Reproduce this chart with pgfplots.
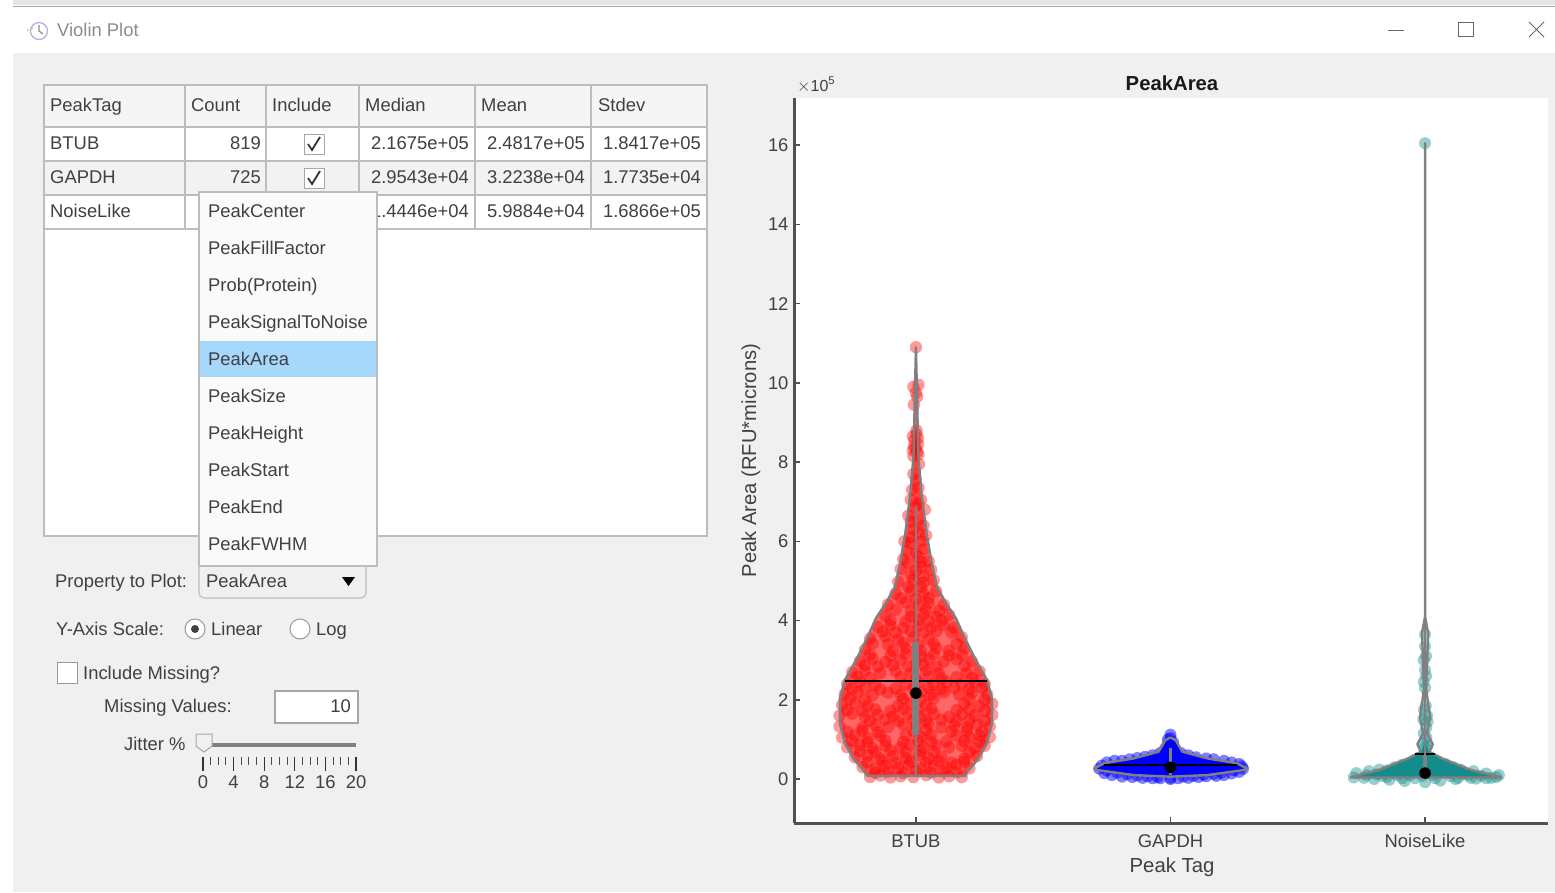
\documentclass[border=0pt]{standalone}
\usepackage{pgfplots}
\pgfplotsset{compat=1.18}
\usepackage{fontspec}
\setmainfont{Liberation Sans}
\definecolor{figbg}{HTML}{F0F0F0}
\definecolor{txt}{HTML}{404040}
\definecolor{bord}{HTML}{BDBDBD}
\definecolor{axc}{HTML}{505050}
\definecolor{vgray}{HTML}{808080}
\definecolor{teal2}{HTML}{148C8C}
\definecolor{hilite}{HTML}{A6D8FB}
\newcommand\lt[3]{\node[anchor=base west,inner sep=0pt,text=txt,yshift=-6.5pt] at (#1,#2) {#3};}
\newcommand\rt[3]{\node[anchor=base east,inner sep=0pt,text=txt,yshift=-6.5pt] at (#1,#2) {#3};}
\newcommand\ct[3]{\node[anchor=base,inner sep=0pt,text=txt,yshift=-6.5pt] at (#1,#2) {#3};}
\begin{document}
\begin{tikzpicture}
\path[use as bounding box] (0pt,0pt) rectangle (1555pt,-892pt);
\begin{scope}[x=1pt,y=-1pt,every node/.style={font=\fontsize{18.4pt}{20pt}\selectfont}]
\fill[white] (0,0) rectangle (1555,892);
\fill[black!10] (13,0) rectangle (1555,5);
\draw[black!35,line width=1pt] (13,6) -- (1555,6);
\fill[figbg] (13,53) rectangle (1555,892);
% title bar
\draw[black!35!blue!30!white,line width=1.3pt] (39,31) circle (8.5);
\draw[black!45,line width=1.2pt] (39,25) -- (39,31) -- (43,34);
\fill[black!30] (28,30) circle (1) (32,28) circle (1);
\node[anchor=base west,inner sep=0pt,text=black!45,yshift=-6.5pt] at (57,30) {Violin Plot};
\draw[black!60,line width=1pt] (1388,30) -- (1404,30);
\draw[black!60,line width=1pt] (1458,22) rectangle (1473,36);
\draw[black!60,line width=1pt] (1529,22) -- (1544,37) (1544,22) -- (1529,37);
% table
\fill[white] (44,85) rectangle (707,536);
\fill[black!4] (44,85) rectangle (707,127);
\fill[black!5] (44,161) rectangle (707,195);
\draw[bord,line width=1.1pt] (44,85) rectangle (707,536);
\draw[bord,line width=1.1pt] (44,127) -- (707,127) (44,161) -- (707,161) (44,195) -- (707,195) (44,229) -- (707,229);
\foreach \x in {185,266,359,475,591} {\draw[bord,line width=1.1pt] (\x,85) -- (\x,229);}
\lt{50}{105}{PeakTag}\lt{191}{105}{Count}\lt{272}{105}{Include}\lt{365}{105}{Median}\lt{481}{105}{Mean}\lt{598}{105}{Stdev}
\lt{50}{143}{BTUB}\rt{261}{143}{819}\rt{469}{143}{2.1675e+05}\rt{585}{143}{2.4817e+05}\rt{701}{143}{1.8417e+05}
\lt{50}{177}{GAPDH}\rt{261}{177}{725}\rt{469}{177}{2.9543e+04}\rt{585}{177}{3.2238e+04}\rt{701}{177}{1.7735e+04}
\lt{50}{211}{NoiseLike}\rt{469}{211}{1.4446e+04}\rt{585}{211}{5.9884e+04}\rt{701}{211}{1.6866e+05}
\foreach \y in {144,178} {
 \draw[black!35,fill=white,line width=1pt] (304,\y-10) rectangle (324,\y+10);
 \draw[black!80,line width=1.8pt] (308,\y) -- (312,\y+6) -- (320,\y-7);
}
% dropdown list
\fill[black!2] (199,192) rectangle (377,566);
\fill[hilite] (200,341) rectangle (376,377);
\draw[bord,line width=1.1pt] (199,192) rectangle (377,566);
\lt{208}{211}{PeakCenter}\lt{208}{248}{PeakFillFactor}\lt{208}{285}{Prob(Protein)}\lt{208}{322}{PeakSignalToNoise}\lt{208}{359}{PeakArea}
\lt{208}{396}{PeakSize}\lt{208}{433}{PeakHeight}\lt{208}{470}{PeakStart}\lt{208}{507}{PeakEnd}\lt{208}{544}{PeakFWHM}
% popup button
\draw[bord,line width=1.1pt,fill=figbg,rounded corners=5pt] (199,560) -- (199,598) -- (366,598) -- (366,560);
\fill[black!2] (199,560) rectangle (377,566);
\draw[bord,line width=1.1pt] (199,566) -- (377,566) (199,560) -- (199,566) (377,560) -- (377,566);
\lt{206}{581}{PeakArea}
\fill[black] (342,577) -- (355,577) -- (348.5,586) -- cycle;
\lt{55}{581}{Property to Plot:}
% radio
\lt{56}{629}{Y-Axis Scale:}
\draw[black!40,fill=white,line width=1pt] (195,629) circle (10);
\fill[black!75] (195,629) circle (4);
\lt{211}{629}{Linear}
\draw[black!40,fill=white,line width=1pt] (300,629) circle (10);
\lt{316}{629}{Log}
\draw[black!40,fill=white,line width=1pt] (57,662) rectangle (77,683);
\lt{83}{673}{Include Missing?}
\lt{104}{706}{Missing Values:}
\draw[black!35,fill=white,line width=1.1pt] (275,691) rectangle (358,723);
\rt{351}{706}{10}
\lt{124}{744}{Jitter \%}
\fill[black!50] (204,743) rectangle (356,747);
\draw[black!35,fill=figbg,line width=1pt] (196,734) -- (212,734) -- (212,746) -- (204,752) -- (196,746) -- cycle;
\foreach \x in {203,233.6,264.2,294.8,325.4,356} {\draw[black!80,line width=1.2pt] (\x,757) -- (\x,771);}
\foreach \x in {210.65,218.3,225.95,241.25,248.9,256.55,271.85,279.5,287.15,302.45,310.1,317.75,333.05,340.7,348.35} {\draw[black!70,line width=1pt] (\x,757) -- (\x,765);}
\ct{203}{782}{0}\ct{233.6}{782}{4}\ct{264.2}{782}{8}\ct{294.8}{782}{12}\ct{325.4}{782}{16}\ct{356}{782}{20}
% power label
\node[anchor=base west,inner sep=0pt,text=txt,font=\fontsize{16pt}{18pt}\selectfont,yshift=-6pt] at (797,85) {$\times$10\textsuperscript{5}};
\end{scope}

\begin{axis}[
  at={(794pt,-823pt)}, anchor=south west,
  width=754pt, height=725pt, scale only axis,
  xmin=-0.479, xmax=2.483, ymin=-1.11, ymax=17.19,
  axis x line*=bottom, axis y line*=left,
  axis background/.style={fill=white},
  axis line style={color=axc,line width=3pt},
  xtick={0,1,2}, xticklabels={BTUB,GAPDH,NoiseLike},
  ytick={0,2,4,6,8,10,12,14,16},
  scaled y ticks=false,
  /pgf/number format/assume math mode=true,
  tick align=inside, major tick length=6pt,
  tick style={color=axc,line width=1.6pt},
  ticklabel style={font=\fontsize{18.4pt}{20pt}\selectfont,text=txt},
  xticklabel style={anchor=base,yshift=-24pt},
  yticklabel style={anchor=east,xshift=-2pt},
  title={\bfseries PeakArea},
  every axis title/.style={at={(rel axis cs:0.5,1)},anchor=base,xshift=1pt,yshift=8pt,font=\fontsize{20.3pt}{22pt}\selectfont,text=black!90},
  xlabel={Peak Tag},
  every axis x label/.style={at={(rel axis cs:0.5,0)},anchor=base,xshift=1pt,yshift=-49pt,font=\fontsize{20.3pt}{22pt}\selectfont,text=txt},
  ylabel={Peak Area (RFU*microns)},
  every axis y label/.style={at={(rel axis cs:0,0.5)},anchor=center,xshift=-43pt,rotate=90,font=\fontsize{20.2pt}{22pt}\selectfont,text=txt},
  clip mode=individual,
]
% ---- BTUB underlay
\addplot[draw=none,fill=red,fill opacity=.6] coordinates {
 (-.193,.08)(-.204,.2)(-.244,.5)(-.279,.9)(-.299,1.41)(-.299,2.03)(-.279,2.5)(-.228,3.09)(-.189,3.6)(-.157,4.06)(-.118,4.44)(-.083,4.85)(-.062,5.45)(-.042,6.2)(-.022,7.2)(-.009,8.2)(-.005,9.5)(0,10.9)
 (.005,9.5)(.009,8.2)(.022,7.2)(.042,6.2)(.062,5.45)(.083,4.85)(.118,4.44)(.157,4.06)(.189,3.6)(.228,3.09)(.279,2.5)(.299,2.03)(.299,1.41)(.279,.9)(.244,.5)(.204,.2)(.193,.08)};
% ---- BTUB points
\addplot[only marks,mark=*,mark size=6.2pt,mark options={draw=red,draw opacity=0,line width=0pt,fill=red,fill opacity=.4}] coordinates {
 (-.18,.05)(-.14,.09)(-.1,.04)(-.06,.07)(-.01,.05)(.04,.1)(.09,.04)(.13,.07)(.18,.05)
 (-.21,.3)(-.16,.26)(-.12,.33)(-.07,.28)(-.03,.36)(.02,.27)(.07,.34)(.12,.29)(.16,.36)(.21,.27)
 (-.24,.55)(-.19,.6)(-.14,.52)(-.09,.58)(-.04,.53)(.01,.6)(.05,.52)(.1,.57)(.19,.52)(.24,.58)
 (-.27,.8)(-.22,.85)(-.17,.78)(-.12,.84)(-.06,.8)(-.02,.86)(.03,.79)(.08,.85)(.13,.8)(.18,.84)(.23,.78)(.27,.84)
 (-.29,1.05)(-.24,1.1)(-.19,1.03)(-.14,1.09)(-.04,1.11)(.02,1.06)(.06,1.12)(.16,1.1)(.21,1.05)(.25,1.1)(.29,1.06)
 (-.3,1.33)(-.21,1.3)(-.16,1.36)(-.11,1.31)(-.05,1.38)(0,1.33)(.05,1.39)(.1,1.3)(.15,1.36)(.2,1.31)(.24,1.37)(.29,1.33)
 (-.3,1.6)(-.25,1.65)(-.2,1.57)(-.15,1.63)(-.09,1.58)(-.03,1.65)(.02,1.58)(.07,1.64)(.13,1.57)(.18,1.63)(.23,1.6)(.3,1.62)
 (-.29,1.87)(-.24,1.92)(-.19,1.85)(-.07,1.85)(-.02,1.92)(.04,1.86)(.19,1.9)(.25,1.85)(.3,1.9)
 (-.28,2.14)(-.23,2.19)(-.17,2.12)(-.11,2.18)(-.06,2.12)(.02,2.19)(.06,2.13)(.11,2.19)(.17,2.13)(.22,2.18)(.28,2.13)
 (-.27,2.4)(-.22,2.46)(-.16,2.38)(-.04,2.39)(.01,2.45)(.07,2.39)(.12,2.45)(.18,2.4)(.23,2.45)(.27,2.4)
 (-.25,2.7)(-.2,2.74)(-.14,2.67)(-.08,2.73)(-.02,2.68)(.04,2.74)(.09,2.67)(.2,2.68)(.25,2.72)
 (-.22,2.98)(-.17,3.03)(-.12,2.95)(-.06,3.01)(0,2.96)(.05,3.03)(.11,2.96)(.16,3.02)(.22,2.97)
 (-.2,3.27)(-.09,3.24)(-.04,3.3)(.02,3.25)(.08,3.31)(.13,3.24)(.19,3.3)
 (-.18,3.55)(-.12,3.6)(-.07,3.52)(-.01,3.58)(.05,3.53)(.18,3.58)
 (-.15,3.84)(-.1,3.88)(-.05,3.81)(.01,3.87)(.06,3.82)(.11,3.88)(.15,3.82)
 (-.12,4.12)(-.02,4.1)(.03,4.16)(.08,4.1)(.13,4.14)
 (-.11,4.4)(-.04,4.46)(.01,4.39)(.05,4.45)(.11,4.4)
 (-.08,4.68)(-.02,4.74)(.03,4.68)(.08,4.74)
 (-.07,4.98)(-.01,5.03)(.03,4.96)(.07,5.02)
 (-.06,5.3)(0,5.26)(.02,5.35)(.06,5.28)
 (-.05,5.55)(.01,5.6)(.05,5.5)(-.035,5.75)(.03,5.8)
 (-.045,6)(-.02,6.1)(.02,6)(.04,6.15)(-.01,6.3)(.03,6.4)
 (-.03,6.65)(.01,6.55)(.035,6.8)(-.005,6.85)(-.02,7.05)(.02,7.05)
 (-.015,7.3)(.01,7.35)(0,7.55)(-.01,7.7)(.012,7.95)(-.01,8.15)(.005,8.25)(-.012,8.3)(.01,8.2)(-.006,8.55)(.008,8.6)(-.012,8.65)(.002,8.8)
 (-.008,9.45)(.005,9.65)(-.01,9.9)(.01,9.95)(0,9.75)(0,10.9)
};
% ---- BTUB points, second run: the dense parts of the cloud
\addplot[only marks,mark=*,mark size=6.2pt,mark options={draw=red,draw opacity=0,line width=0pt,fill=red,fill opacity=.4}] coordinates {
 (-.16,.16)(-.11,.18)(-.05,.15)(0,.2)(.06,.16)(.11,.19)(.16,.17)
 (-.19,.43)(-.13,.45)(-.08,.41)(-.02,.44)(.04,.42)(.09,.45)(.14,.41)(.19,.44)
 (-.22,.7)(-.16,.68)(-.1,.72)(-.04,.67)(.02,.71)(.07,.68)(.21,.69)
 (-.25,.96)(-.19,.93)(-.12,.97)(-.05,.94)(.01,.97)(.06,.94)(.12,.95)(.19,.96)(.25,.94)
 (-.27,1.2)(-.21,1.22)(-.15,1.18)(-.01,1.21)(.04,1.23)(.14,1.2)(.2,1.22)(.26,1.19)
 (-.18,1.47)(-.12,1.5)(-.07,1.46)(-.01,1.5)(.04,1.48)(.1,1.5)(.16,1.46)(.21,1.49)(.27,1.47)
 (-.27,1.74)(-.21,1.72)(-.16,1.76)(-.1,1.72)(-.05,1.77)(.01,1.73)(.06,1.77)(.16,1.74)(.21,1.76)(.27,1.72)
 (-.26,2.02)(-.2,2)(-.05,2.03)(.02,2)(.07,2.04)(.21,2.02)(.27,2)
 (-.25,2.28)(-.2,2.3)(-.14,2.26)(-.08,2.29)(-.01,2.27)(.05,2.3)(.1,2.27)(.15,2.3)(.21,2.27)(.26,2.3)
 (-.23,2.58)(-.18,2.55)(-.06,2.57)(0,2.54)(.05,2.58)(.1,2.54)(.16,2.57)(.22,2.55)
 (-.2,2.87)(-.15,2.84)(-.09,2.87)(-.03,2.84)(.03,2.87)(.08,2.83)(.19,2.86)
 (-.18,3.14)(-.1,3.12)(-.04,3.15)(.02,3.11)(.07,3.15)(.13,3.12)(.18,3.14)
 (-.17,3.42)(-.11,3.4)(-.05,3.43)(.01,3.39)(.07,3.42)(.16,3.41)
 (-.13,3.72)(-.08,3.7)(-.02,3.73)(.03,3.7)(.08,3.73)(.14,3.7)
 (-.1,4)(-.04,3.98)(.01,4.01)(.05,3.98)(.1,4)
 (-.08,4.27)(-.02,4.25)(.04,4.27)(.09,4.25)
 (-.06,4.56)(0,4.54)(.05,4.57)(-.03,4.85)(.02,4.84)
 (-.02,5.15)(.03,5.12)(-.03,5.45)(.02,5.48)(.0,5.7)(-.02,5.95)(.01,6.2)(-.02,6.5)(.01,6.95)
 (.0,8.35)(-.008,8.4)(.008,8.45)(.002,8.7)
};
% ---- GAPDH underlay
\addplot[draw=none,fill=blue] coordinates {
 (1,1.05)(.98,.98)(.953,.69)(.855,.52)(.74,.4)(.701,.27)(.71,.23)(.855,.1)(1,.06)(1.145,.1)(1.29,.23)(1.299,.27)(1.26,.4)(1.145,.52)(1.047,.69)(1.02,.98)};
% ---- GAPDH points
\addplot[only marks,mark=*,mark size=6pt,mark options={draw=blue,draw opacity=0,line width=0pt,fill=blue,fill opacity=.5}] coordinates {
 (.72,.26)(.73,.34)(.74,.15)(.75,.42)(.78,.46)(.77,.1)(.81,.46)(.81,.06)(.84,.5)(.85,.05)(.87,.53)(.89,.03)(.9,.56)(.93,.02)(.93,.6)(.96,.02)(.96,.66)(1,.0)(.98,.78)(1.03,.02)(1.04,.66)(1.07,.03)(1.07,.6)(1.11,.05)(1.1,.55)(1.14,.07)(1.14,.52)(1.18,.08)(1.17,.5)(1.21,.1)(1.21,.46)(1.24,.14)(1.24,.42)(1.27,.18)(1.27,.38)(1.285,.26)(1.28,.32)
 (.99,.9)(1.01,.93)(1,1.03)(1,1.12)(.99,1.0)(1.01,.85)(1.01,.75)
 (.75,.22)(.79,.16)(.83,.12)(.87,.09)(.91,.07)(.95,.05)(1,.03)(1.05,.06)(1.09,.08)(1.13,.11)(1.17,.13)(1.2,.16)(1.25,.22)
};
% ---- NoiseLike underlay
\addplot[draw=none,fill=teal2] coordinates {
 (1.705,.04)(1.82,.23)(1.933,.52)(1.983,.69)(2,.9)(2.017,.69)(2.067,.52)(2.18,.23)(2.3,.04)};
% ---- NoiseLike points
\addplot[only marks,mark=*,mark size=6pt,mark options={draw=teal2,draw opacity=0,line width=0pt,fill=teal2,fill opacity=.42}] coordinates {
 (1.72,.04)(1.73,.15)(1.76,.03)(1.78,.2)(1.8,.0)(1.82,.24)(1.83,.08)(1.85,.22)(1.86,-.02)(1.88,.3)(1.89,.1)(1.91,.36)(1.92,-.05)(1.94,.2)(1.95,.44)(1.96,.02)(1.98,.52)(2,-.08)(2.02,.5)(2.03,.1)(2.05,.45)(2.06,-.04)(2.08,.38)(2.09,.15)(2.11,.3)(2.12,0)(2.14,.24)(2.15,.12)(2.18,.03)(2.19,.2)(2.22,.08)(2.24,.14)(2.26,.03)(2.28,.05)(2.29,.1)
 (1.77,.1)(1.81,.12)(1.85,.05)(1.88,.16)(1.91,.02)(1.94,.1)(1.97,.25)(1.99,.08)(2.01,.28)(2.04,.02)(2.07,.2)(2.1,.07)(2.13,.03)(2.17,.1)(2.2,.01)(2.24,.02)
 (2,.8)(2.01,.85)(1.995,.9)(2.005,1.05)(1.995,1.15)(2.005,1.3)(2.01,1.45)(1.993,1.5)(2.008,1.6)(1.996,1.75)(2.003,1.85)
 (2,2.3)(1.995,2.45)(2.004,2.6)(2,2.75)(1.995,3)(2.004,3.1)(2,3.35)(2,3.65)(2,16.05)
};
% ---- outlines
\addplot[vgray,line width=2.4pt,line join=round] coordinates {
 (-.193,.08)(-.204,.2)(-.244,.5)(-.279,.9)(-.299,1.41)(-.299,2.03)(-.279,2.5)(-.228,3.09)(-.189,3.6)(-.157,4.06)(-.118,4.44)(-.083,4.85)(-.062,5.45)(-.042,6.2)(-.022,7.2)(-.009,8.2)(-.005,9.5)(0,10.9)
 (.005,9.5)(.009,8.2)(.022,7.2)(.042,6.2)(.062,5.45)(.083,4.85)(.118,4.44)(.157,4.06)(.189,3.6)(.228,3.09)(.279,2.5)(.299,2.03)(.299,1.41)(.279,.9)(.244,.5)(.204,.2)(.193,.08)(-.193,.08)};
\addplot[vgray,line width=2.4pt,line join=round] coordinates {
 (1,1.05)(.98,.98)(.953,.69)(.855,.52)(.74,.4)(.701,.27)(.71,.23)(.855,.1)(1,.06)(1.145,.1)(1.29,.23)(1.299,.27)(1.26,.4)(1.145,.52)(1.047,.69)(1.02,.98)(1,1.05)};
\addplot[vgray,line width=2.4pt,line join=round] coordinates {
 (1.705,.04)(1.82,.23)(1.933,.52)(1.983,.69)(1.97,.88)(1.992,1.15)(1.98,1.57)(1.988,1.9)(1.996,2.3)(1.988,3.68)(2,4.1)(2,16.05)
 (2,4.1)(2.012,3.68)(2.004,2.3)(2.012,1.9)(2.02,1.57)(2.008,1.15)(2.03,.88)(2.017,.69)(2.067,.52)(2.18,.23)(2.3,.04)(1.705,.04)};
% ---- mean lines
\addplot[black,line width=2pt] coordinates {(-.279,2.48)(.279,2.48)};
\addplot[black,line width=2pt] coordinates {(.74,.35)(1.26,.35)};
\addplot[black,line width=2.5pt] coordinates {(1.96,.63)(2.04,.63)};
% ---- whiskers and boxes
\addplot[vgray,line width=2.2pt] coordinates {(0,.08)(0,6.9)};
\addplot[vgray,line width=7pt] coordinates {(0,1.11)(0,3.47)};
\addplot[vgray,line width=2.2pt] coordinates {(1,.1)(1,.78)};
\addplot[vgray,line width=2.2pt] coordinates {(2,.04)(2,4.1)};
\addplot[vgray,line width=3.5pt] coordinates {(2,.05)(2,.6)};
% ---- medians
\addplot[only marks,mark=*,mark size=5.8pt,mark options={draw=black,draw opacity=0,line width=0pt,fill=black}] coordinates {(0,2.17)(1,.295)(2,.15)};
\end{axis}
\end{tikzpicture}
\end{document}
